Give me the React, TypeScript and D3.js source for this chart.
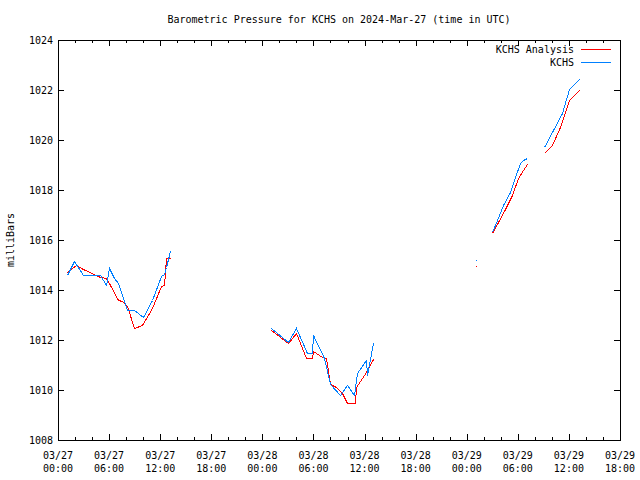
import React from "react";
import * as d3 from "d3";

// Hours since 2024-03-27 00:00 UTC; null breaks the line
const obsHours: (number | null)[] = [
  1.0, 1.92, 2.9, 4.0, 4.93, 5.6, 6.03, 6.6, 7.08, 8.06, 8.93, 10.0, 11.0, 12.1, 12.4, 12.7, 13.2, null,
  25.0, 27.05, 27.95, 29.3, 29.8, 30.0, 31.2, 31.95, 33.1, 33.98, 34.8, 35.08, 36.17, 36.25, 37.03, null,
  49.05, null,
  51.0, 51.5, 52.3, 53.1, 53.7, 54.26, 54.65, 55.1, null,
  57.1, 58.17, 59.15, 60.05, 60.5, 61.15,
];
const obsValues: (number | null)[] = [
  1014.6, 1015.17, 1014.6, 1014.6, 1014.6, 1014.2, 1014.9, 1014.47, 1014.27, 1013.2, 1013.2, 1012.93, 1013.6, 1014.56, 1014.62, 1014.93, 1015.57, null,
  1012.5, 1011.93, 1012.5, 1011.5, 1011.5, 1012.2, 1011.27, 1010.24, 1009.8, 1010.2, 1009.8, 1010.67, 1011.2, 1010.6, 1011.9, null,
  1015.2, null,
  1016.33, 1016.8, 1017.4, 1017.93, 1018.53, 1019.09, 1019.2, 1019.3, null,
  1019.7, 1020.4, 1021.07, 1022.03, 1022.2, 1022.43,
];

const anaHours: (number | null)[] = [
  1.0, 2.07, 2.97, 4.93, 5.6, 6.1, 7.0, 7.5, 8.06, 8.96, 9.9, 11.0, 12.1, 12.5, 12.7, 13.2, null,
  25.0, 27.05, 27.95, 29.1, 29.8, 30.0, 30.96, 31.5, 32.0, 32.65, 33.3, 33.98, 34.88, 35.0, 36.17, 37.03, null,
  49.05, null,
  51.0, 51.7, 52.5, 53.3, 54.06, 54.65, 55.1, null,
  57.1, 57.96, 58.94, 60.05, 61.15,
];
const anaValues: (number | null)[] = [
  1014.7, 1015.0, 1014.83, 1014.53, 1014.5, 1014.2, 1013.6, 1013.57, 1013.36, 1012.5, 1012.6, 1013.27, 1014.16, 1014.2, 1015.27, 1015.27, null,
  1012.4, 1011.87, 1012.27, 1011.27, 1011.27, 1011.57, 1011.33, 1011.27, 1010.24, 1010.1, 1009.9, 1009.47, 1009.47, 1010.1, 1010.73, 1011.23, null,
  1014.96, null,
  1016.27, 1016.73, 1017.23, 1017.8, 1018.47, 1018.8, 1019.04, null,
  1019.5, 1019.8, 1020.53, 1021.6, 1022.0,
];

const yTicks = [1008, 1010, 1012, 1014, 1016, 1018, 1020, 1022, 1024];
const xTickLabels = [
  ["03/27", "00:00"], ["03/27", "06:00"], ["03/27", "12:00"], ["03/27", "18:00"],
  ["03/28", "00:00"], ["03/28", "06:00"], ["03/28", "12:00"], ["03/28", "18:00"],
  ["03/29", "00:00"], ["03/29", "06:00"], ["03/29", "12:00"], ["03/29", "18:00"],
];
const seriesNames = ["KCHS Analysis", "KCHS"];
const seriesColors = ["#ff0000", "#0080ff"];

const W = 640, H = 480;
const L = 58, R = 620, T = 40, B = 440;
const FONT = "'DejaVu Sans Mono', monospace";

export default function App() {
  const x = d3.scaleLinear().domain([0, 66]).range([L, R]);
  const y = d3.scaleLinear().domain([1008, 1024]).range([B, T]);

  const mk = (hs: (number | null)[], vs: (number | null)[]) =>
    hs.map((h, i) => ({ h, v: vs[i] }));
  const line = d3
    .line<{ h: number | null; v: number | null }>()
    .defined((d) => d.h !== null && d.v !== null)
    .x((d) => Math.round(x(d.h as number)) + 0.5)
    .y((d) => Math.round(y(d.v as number)) + 0.5);

  const isolated = (hs: (number | null)[], vs: (number | null)[]) =>
    hs
      .map((h, i) => ({ h, v: vs[i], i }))
      .filter((d) => d.h !== null && (d.i === 0 || hs[d.i - 1] === null) && (d.i === hs.length - 1 || hs[d.i + 1] === null));

  const minorHours = d3.range(0, 67, 2);
  const majorHours = d3.range(0, 67, 6);

  const series = [
    { hs: anaHours, vs: anaValues },
    { hs: obsHours, vs: obsValues },
  ];

  return (
    <svg width={W} height={H} style={{ position: "absolute", left: 0, top: 0, background: "#fff" }}>
      <rect x={0} y={0} width={W} height={H} fill="#fff" />
      <text x={339} y={23} fontFamily={FONT} fontSize={10} textAnchor="middle" fill="#000">
        Barometric Pressure for KCHS on 2024-Mar-27 (time in UTC)
      </text>
      <text
        transform={`translate(14,240) rotate(-90)`}
        fontFamily={FONT}
        fontSize={10}
        textAnchor="middle"
        fill="#000"
      >
        milliBars
      </text>
      <g shapeRendering="crispEdges" stroke="#000" strokeWidth={1}>
        {yTicks.map((t) => (
          <g key={t}>
            <line x1={L} x2={L + 6} y1={Math.round(y(t)) + 0.5} y2={Math.round(y(t)) + 0.5} />
            <line x1={R - 6} x2={R} y1={Math.round(y(t)) + 0.5} y2={Math.round(y(t)) + 0.5} />
          </g>
        ))}
        {minorHours.map((h) => {
          const len = h % 6 === 0 ? 6 : 3;
          const xx = Math.round(x(h)) + 0.5;
          return (
            <g key={h}>
              <line x1={xx} x2={xx} y1={B} y2={B - len} />
              <line x1={xx} x2={xx} y1={T} y2={T + len} />
            </g>
          );
        })}
        <rect x={L + 0.5} y={T + 0.5} width={R - L} height={B - T} fill="none" />
      </g>
      {yTicks.map((t) => (
        <text key={t} x={L - 5} y={y(t) + 4} fontFamily={FONT} fontSize={10} textAnchor="end" fill="#000">
          {t}
        </text>
      ))}
      {majorHours.map((h, i) => (
        <text key={h} x={x(h)} y={459} fontFamily={FONT} fontSize={10} textAnchor="middle" fill="#000">
          <tspan x={x(h)} dy={0}>{xTickLabels[i][0]}</tspan>
          <tspan x={x(h)} dy={13}>{xTickLabels[i][1]}</tspan>
        </text>
      ))}
      <g shapeRendering="crispEdges">
        {series.map((s, si) => (
          <g key={si}>
            <path d={line(mk(s.hs, s.vs)) || ""} fill="none" stroke={seriesColors[si]} strokeWidth={1} />
            {isolated(s.hs, s.vs).map((d) => (
              <rect
                key={d.i}
                x={Math.round(x(d.h as number))}
                y={Math.round(y(d.v as number))}
                width={1}
                height={1}
                fill={seriesColors[si]}
              />
            ))}
          </g>
        ))}
      </g>
      {seriesNames.map((n, i) => (
        <g key={n}>
          <text x={574} y={53 + i * 13} fontFamily={FONT} fontSize={10} textAnchor="end" fill="#000">
            {n}
          </text>
          <line
            x1={581}
            x2={611}
            y1={49.5 + i * 13}
            y2={49.5 + i * 13}
            stroke={seriesColors[i]}
            strokeWidth={1}
            shapeRendering="crispEdges"
          />
        </g>
      ))}
    </svg>
  );
}
